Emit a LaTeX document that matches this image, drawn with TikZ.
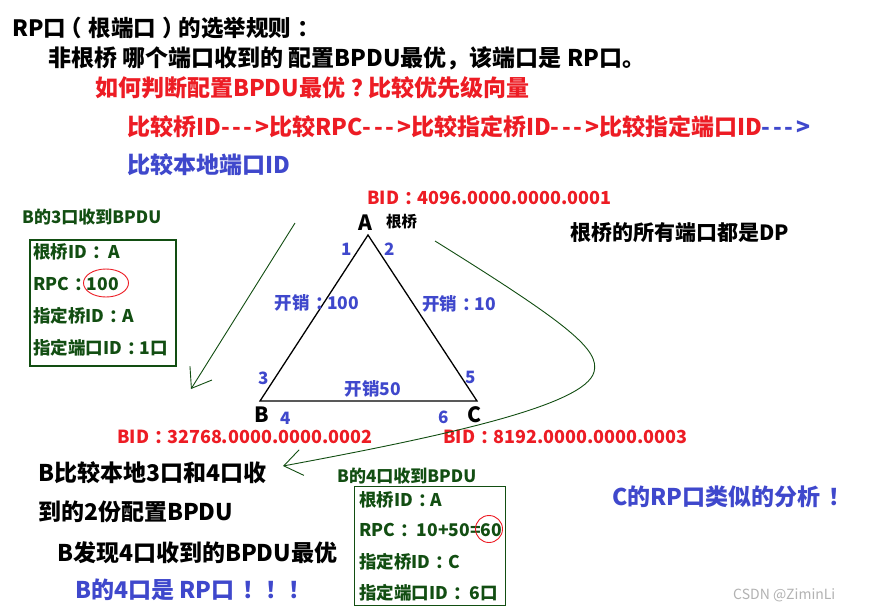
\documentclass[tikz,border=0pt]{standalone}
\usepackage{fontspec}
\newfontfamily\cjk{Noto Sans CJK SC}
\usetikzlibrary{
    arrows.meta,
    shapes.geometric
}
\definecolor{ptred}{RGB}{237,28,36}
\definecolor{ptblue}{RGB}{63,72,204}
\definecolor{ptgreen}{RGB}{18,78,18}
% puntuacion de ancho completo centrada, flecha de texto
\newcommand\pc[2][0.3em]{\hspace{#1}#2\hspace{-#1}}
\newcommand\arr{\makebox[2.1em][s]{-\hfil-\hfil-\hfil>}}
\tikzset{
    >=Stealth,
    txt/.style={inner sep=0pt, anchor=west, font=\cjk\bfseries\fontsize{#1}{#1}\selectfont},
    txt/.default=23,
    bpdubox/.style={draw=ptgreen, line width=1.4pt, inner sep=0pt},
    boxrow/.style={txt=17.5, text=ptgreen},
    port/.style={txt=17, text=ptblue},
    cost/.style={txt=17.5, text=ptblue, anchor=center},
    bid/.style={txt=18, text=ptred},
    ring/.style={draw=ptred, line width=0.9pt, inner sep=0pt},
    note arrow/.style={draw=ptgreen, line width=0.9pt, -{Straight Barb[length=18pt,width=26pt]}}
}

\begin{document}
\begin{tikzpicture}[x=1pt, y=-1pt]
    \useasboundingbox[fill=white] (0,0) rectangle (890,611);

    % Reglas
    \node[txt=22.5] (title) at (12,28) {RP口\pc[-0.3em]{（}根端口\pc{）}的选举规则\pc{：}};
    \node[txt] (rule) at (48,58) {非根桥 哪个端口收到的 配置BPDU最优，该端口是 RP口。};
    \node[txt, text=ptred] (how) at (95,88) {如何判断配置BPDU最优\pc[0.25em]{？}比较优先级向量};
    \node[txt, text=ptred] (order) at (127,127)
        {比较桥ID\arr 比较RPC\arr 比较指定桥ID\arr 比较指定端口ID\textcolor{ptblue}{\arr}};
    \node[txt, text=ptblue] (local) at (127,165) {比较本地端口ID};

    % Triangulo
    \coordinate (vA) at (368,235);
    \coordinate (vB) at (260,401);
    \coordinate (vC) at (477,401);
    \draw[line width=1.3pt] (vA) -- (vB) -- (vC) -- cycle;

    \node[txt=21, anchor=center] (labA) at (365,223) {A};
    \node[txt=21, anchor=center] (labB) at (262,415) {B};
    \node[txt=21, anchor=center] (labC) at (474,415) {C};
    \node[txt=15.5] (root) at (386,222) {根桥};

    \node[port] (p1) at (341,249) {1};
    \node[port] (p2) at (384,249) {2};
    \node[port] (p3) at (258,378) {3};
    \node[port] (p4) at (280,418) {4};
    \node[port] (p5) at (465,377) {5};
    \node[port] (p6) at (438,417) {6};

    \node[cost] (cAB) at (317,303) {开销\pc{：}100};
    \node[cost] (cAC) at (459,304) {开销\pc{：}10};
    \node[cost] (cBC) at (373,389) {开销50};

    \node[bid] (bidA) at (367,198) {BID\pc{：}4096.0000.0000.0001};
    \node[bid] (bidB) at (117,437) {BID\pc{：}32768.0000.0000.0002};
    \node[bid] (bidC) at (443,437) {BID\pc{：}8192.0000.0000.0003};

    \node[txt=21] (alldp) at (570,233) {根桥的所有端口都是DP};

    % BPDU del puerto 3
    \node[txt=17, text=ptgreen] (t3) at (22,217) {B的3口收到BPDU};
    \node[bpdubox, minimum width=146pt, minimum height=126pt] (box3) at (103,303) {};
    \node[boxrow] (r31) at (33,252) {根桥ID\pc{：} A};
    \node[boxrow] (r32) at (33,284) {RPC\pc{：}100};
    \node[boxrow] (r33) at (33,316) {指定桥ID\pc{：}A};
    \node[boxrow] (r34) at (33,348) {指定端口ID\pc{：}1口};
    \node[ring, ellipse, minimum width=45pt, minimum height=28pt] (ring100) at (106,283) {};

    % BPDU del puerto 4
    \node[txt=17, text=ptgreen] (t4) at (337,476) {B的4口收到BPDU};
    \node[bpdubox, minimum width=151pt, minimum height=119pt] (box4) at (430,546) {};
    \node[boxrow] (r41) at (359,500) {根桥ID\pc{：}A};
    \node[boxrow] (r42) at (359,530) {RPC\pc{：} 10+50=60};
    \node[boxrow] (r43) at (359,562) {指定桥ID\pc{：}C};
    \node[boxrow] (r44) at (359,593) {指定端口ID\pc{：} 6口};
    \node[ring, circle, minimum size=27pt] (ring60) at (489,529) {};

    % Flechas
    \coordinate (outA1) at (295,223);
    \coordinate (inBox3) at (191,389);
    \coordinate (outA2) at (435,241);
    \coordinate (inB4) at (283,466);
    \draw[note arrow] (outA1) -- (inBox3);
    \draw[note arrow] (outA2) .. controls (570,325) and (600,350) .. (594,372)
        .. controls (585,405) and (450,435) .. (inB4);

    % Conclusiones
    \node[txt] (cmp1) at (38,473) {B比较本地3口和4口收};
    \node[txt] (cmp2) at (38,512) {到的2份配置BPDU};
    \node[txt] (best) at (57,553) {B发现4口收到的BPDU最优};
    \node[txt, text=ptblue] (rp) at (75,590) {B的4口是 RP口\pc[0.35em]{！}\pc[0.35em]{！}\pc[0.35em]{！}};
    \node[txt, text=ptblue] (crp) at (612,497) {C的RP口类似的分析\pc[0.35em]{！}};

    \node[inner sep=0pt, anchor=west, text=black!30, font=\cjk\fontsize{14}{14}\selectfont]
        (mark) at (733,595) {CSDN @ZiminLi};

\end{tikzpicture}
\end{document}
